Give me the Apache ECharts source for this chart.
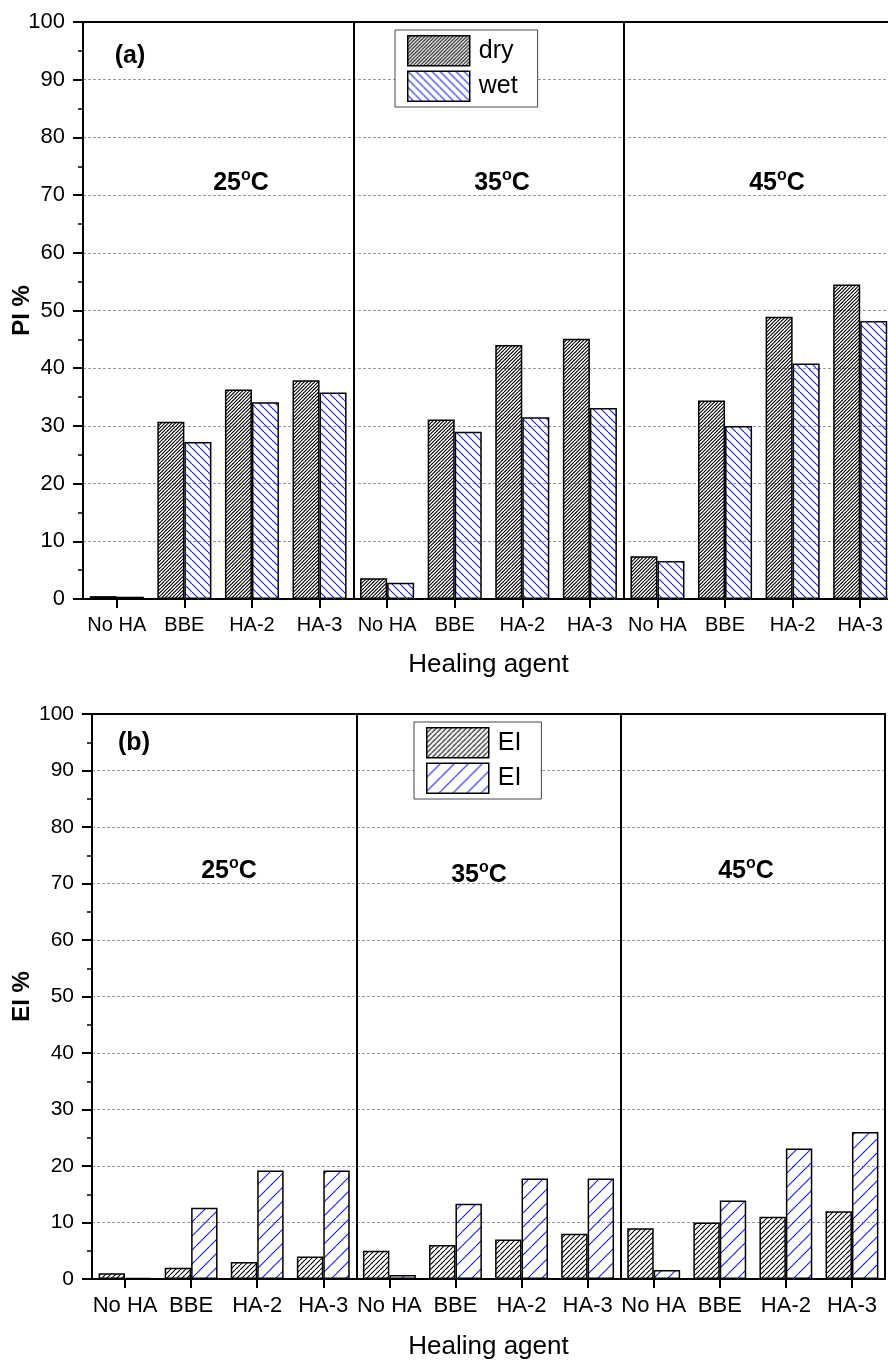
<!DOCTYPE html>
<html>
<head>
<meta charset="utf-8">
<script src="https://cdn.jsdelivr.net/npm/echarts@6/dist/echarts.min.js"></script>
<style>
  html, body { margin: 0; padding: 0; background: #fff; }
  #chart { width: 888px; height: 1360px; }
</style>
</head>
<body>
<div id="chart"></div>
<script>
// Healing agents, repeated for each healing temperature block (25, 35, 45 °C)
const healingAgents = ['No HA', 'BBE', 'HA-2', 'HA-3', 'No HA', 'BBE', 'HA-2', 'HA-3', 'No HA', 'BBE', 'HA-2', 'HA-3'];
const temperatures = ['25', '35', '45'];
const yTicks = [0, 10, 20, 30, 40, 50, 60, 70, 80, 90, 100];

// (a) PI %
const piDry = [0.5, 30.7, 36.3, 37.9, 3.6, 31.1, 44.0, 45.1, 7.4, 34.4, 48.9, 54.5];
const piWet = [0.4, 27.2, 34.1, 35.8, 2.8, 29.0, 31.5, 33.1, 6.6, 30.0, 40.8, 48.2];

// (b) EI %
const eiDry = [1, 2, 3, 4, 5, 6, 7, 8, 9, 10, 11, 12];
const eiWet = [0.2, 12.6, 19.2, 19.2, 0.7, 13.3, 17.8, 17.8, 1.6, 13.9, 23.1, 26.0];

const FONT = '"Liberation Sans", Arial, Helvetica, sans-serif';

// Diagonal hatch fill tile: `lines` parallel strokes per tile of `tile` px
function hatch(tile, lines, color, dir, lw) {
  const c = document.createElement('canvas');
  c.width = c.height = tile;
  const g = c.getContext('2d');
  g.strokeStyle = color;
  g.lineWidth = lw;
  const step = tile / lines;
  g.beginPath();
  for (let x0 = -tile; x0 <= tile + 0.01; x0 += step) {
    if (dir === '/') { g.moveTo(x0, tile); g.lineTo(x0 + tile, 0); }
    else { g.moveTo(x0, 0); g.lineTo(x0 + tile, tile); }
  }
  g.stroke();
  return { image: c, repeat: 'repeat' };
}

const fillPiDry = hatch(7, 2, '#000', '/', 1.1);
const fillPiWet = hatch(8, 1, '#1a1aff', '\\', 1.1);
const fillEiDry = hatch(5, 1, '#000', '/', 1.1);
const fillEiWet = hatch(14, 1, '#1a1aff', '/', 1.1);

function bottomAxis(gridIndex, labelSize, nameGap) {
  return {
    gridIndex, type: 'category', data: healingAgents, position: 'bottom', boundaryGap: true,
    axisLine: { onZero: false, lineStyle: { color: '#000', width: 2 } },
    axisTick: { show: true, alignWithLabel: true, length: 9, lineStyle: { color: '#000', width: 2 } },
    axisLabel: { interval: 0, fontSize: labelSize, color: '#000', margin: 16, fontFamily: FONT },
    splitLine: { show: false },
    name: 'Healing agent', nameLocation: 'middle', nameGap,
    nameTextStyle: { fontSize: 26, color: '#000', fontFamily: FONT }
  };
}

// Frame on top, plus the vertical separators between temperature blocks
function topAxis(gridIndex) {
  return {
    gridIndex, type: 'category', data: healingAgents, position: 'top', boundaryGap: true,
    axisLine: { show: true, onZero: false, lineStyle: { color: '#000', width: 2 } },
    axisTick: { show: false },
    axisLabel: { show: false },
    splitLine: {
      show: true,
      interval: (i) => i === 4 || i === 8,
      lineStyle: { color: '#000', width: 2, type: 'solid' }
    }
  };
}

function leftAxis(gridIndex, name, labelSize, nameGap) {
  return {
    gridIndex, type: 'value', position: 'left', min: yTicks[0], max: yTicks[yTicks.length - 1], interval: 10,
    axisLine: { show: true, onZero: false, lineStyle: { color: '#000', width: 2 } },
    axisTick: { show: true, length: 10, lineStyle: { color: '#000', width: 2 } },
    minorTick: { show: true, splitNumber: 2, length: 5, lineStyle: { color: '#000', width: 1.5 } },
    splitLine: { show: true, lineStyle: { color: '#999', width: 1, type: [3, 2] } },
    axisLabel: { fontSize: labelSize, color: '#000', margin: 18, fontFamily: FONT },
    name, nameLocation: 'middle', nameGap, nameMoveOverlap: false,
    nameTextStyle: { fontSize: 24, fontWeight: 'bold', color: '#000', fontFamily: FONT }
  };
}

function rightAxis(gridIndex) {
  return {
    gridIndex, type: 'value', position: 'right', min: 0, max: 100,
    axisLine: { show: true, onZero: false, lineStyle: { color: '#000', width: 2 } },
    axisTick: { show: false }, axisLabel: { show: false }, splitLine: { show: false }
  };
}

function barSeries(name, data, fill, xi, yi) {
  return {
    name, type: 'bar', data, xAxisIndex: xi, yAxisIndex: yi,
    barGap: '0%', barCategoryGap: '20%',
    itemStyle: { color: fill, borderColor: '#000', borderWidth: 1.5 },
    emphasis: { disabled: true }
  };
}

function legend(names, left, top) {
  return {
    data: names, left, top, orient: 'vertical', icon: 'rect',
    itemWidth: 62, itemHeight: 30, itemGap: 4,
    padding: [5, 20, 5, 12],
    backgroundColor: '#fff', borderColor: '#444', borderWidth: 1,
    formatter: (n) => n.trim(),
    textStyle: { fontSize: 25, color: '#000', fontFamily: FONT, padding: [0, 0, 0, 4] },
    itemStyle: { borderColor: '#000', borderWidth: 1.5 },
    selectedMode: false
  };
}

function tempLabel(t, x, y) {
  return {
    type: 'text', x, y, z: 10,
    style: {
      text: '{n|' + t + '}{s|o}{n|C}',
      align: 'center', verticalAlign: 'middle',
      rich: {
        n: { fontSize: 25, fontWeight: 'bold', fontFamily: FONT, fill: '#000', lineHeight: 30, verticalAlign: 'middle' },
        s: { fontSize: 16, fontWeight: 'bold', fontFamily: FONT, fill: '#000', lineHeight: 16, verticalAlign: 'top' }
      }
    }
  };
}

function panelTag(text, x, y) {
  return {
    type: 'text', x, y, z: 10,
    style: { text, align: 'center', verticalAlign: 'middle', font: 'bold 25px ' + FONT, fill: '#000' }
  };
}

const chart = echarts.init(document.getElementById('chart'), null, { renderer: 'canvas' });

chart.setOption({
  animation: false,
  backgroundColor: '#fff',
  textStyle: { fontFamily: FONT },
  grid: [
    { left: 83, top: 22, width: 811, height: 577, containLabel: false, outerBoundsMode: 'none' },
    { left: 92, top: 714, width: 793, height: 565, containLabel: false, outerBoundsMode: 'none' }
  ],
  xAxis: [bottomAxis(0, 20, 53), topAxis(0), bottomAxis(1, 22, 55), topAxis(1)],
  yAxis: [leftAxis(0, 'PI %', 22, 49), rightAxis(0), leftAxis(1, 'EI %', 21, 58), rightAxis(1)],
  legend: [legend(['dry', 'wet'], 395, 30), legend(['EI', 'EI '], 414, 722)],
  series: [
    barSeries('dry', piDry, fillPiDry, 0, 0),
    barSeries('wet', piWet, fillPiWet, 0, 0),
    barSeries('EI', eiDry, fillEiDry, 2, 2),
    barSeries('EI ', eiWet, fillEiWet, 2, 2)
  ],
  graphic: [
    panelTag('(a)', 130, 56),
    panelTag('(b)', 134, 743),
    tempLabel(temperatures[0], 241, 183),
    tempLabel(temperatures[1], 502, 183),
    tempLabel(temperatures[2], 777, 183),
    tempLabel(temperatures[0], 229, 871),
    tempLabel(temperatures[1], 479, 875),
    tempLabel(temperatures[2], 746, 871)
  ]
});
</script>
</body>
</html>
